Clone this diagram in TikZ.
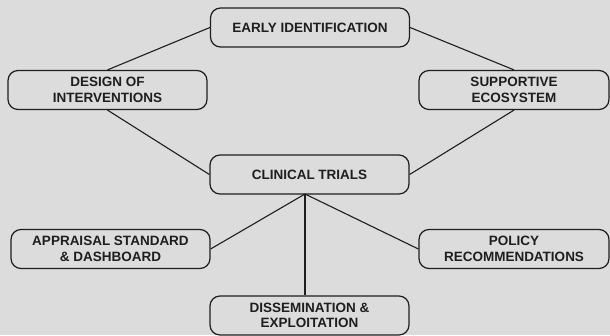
\documentclass[tikz,border=0pt]{standalone}
\usepackage{fontspec}
\setmainfont{Liberation Sans}
\definecolor{bg}{HTML}{DCDCDC}
\definecolor{ink}{HTML}{1E1E1E}
\begin{document}
\begin{tikzpicture}[x=1pt,y=-1pt,
  box/.style={draw=ink, line width=1.2pt, rounded corners=10pt, fill=bg,
    minimum height=39pt, inner sep=0pt, align=center,
    font=\fontsize{13.5}{15.5}\selectfont\bfseries, text=ink},
  link/.style={draw=ink, line width=1.1pt}]
\fill[bg] (0,0) rectangle (610,335);
\useasboundingbox (0,0) rectangle (610,335);
\node[box, minimum width=199pt] (early) at (310,27.5) {EARLY IDENTIFICATION};
\node[box, minimum width=199pt] (design) at (107.5,90) {DESIGN OF\\INTERVENTIONS};
\node[box, minimum width=190pt] (support) at (514,90) {SUPPORTIVE\\ECOSYSTEM};
\node[box, minimum width=199pt] (clin) at (309.5,174.5) {CLINICAL TRIALS};
\node[box, minimum width=199pt] (appr) at (110.5,249) {APPRAISAL STANDARD\\\& DASHBOARD};
\node[box, minimum width=190pt] (policy) at (514,249) {POLICY\\RECOMMENDATIONS};
\node[box, minimum width=199pt] (diss) at (309.5,315.5) {DISSEMINATION \&\\EXPLOITATION};
\coordinate (hub) at (305,194);
\draw[link] (early.west) -- (design.north);
\draw[link] (early.east) -- (support.north);
\draw[link] (design.south) -- (clin.west);
\draw[link] (support.south) -- (clin.east);
\draw[link] (hub) -- (appr.east);
\draw[link] (hub) -- (policy.west);
\draw[link] (hub) -- (hub |- diss.north);
\end{tikzpicture}
\end{document}
